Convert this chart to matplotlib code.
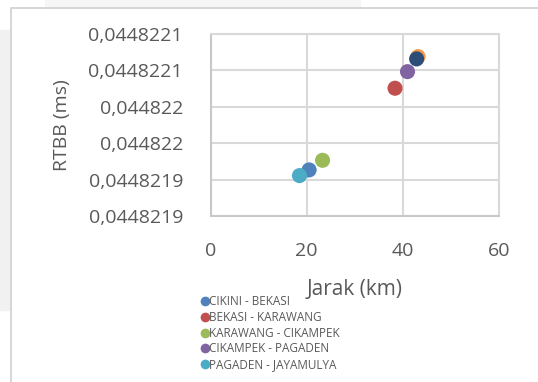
import matplotlib
matplotlib.use("Agg")
import matplotlib.pyplot as plt
from matplotlib.lines import Line2D
from matplotlib.patches import Rectangle

# ---------------------------------------------------------------------------
# Data
# ---------------------------------------------------------------------------
series_names = [
    "CIKINI - BEKASI",
    "BEKASI - KARAWANG",
    "KARAWANG - CIKAMPEK",
    "CIKAMPEK - PAGADEN",
    "PAGADEN - JAYAMULYA",
    "",  # extra series, not in legend
    "",
]
jarak = [20.5, 38.4, 23.3, 41.0, 18.5, 43.2, 42.9]
rtbb = [0.0448219133, 0.0448220255, 0.0448219265, 0.0448220483,
        0.0448219055, 0.0448220689, 0.0448220658]
colors = ["#4F81BD", "#C0504D", "#9BBB59", "#8064A2", "#4BACC6",
          "#F79646", "#2C4D75"]

y_ticks = [0.04482185, 0.0448219, 0.04482195, 0.044822, 0.04482205, 0.0448221]
y_tick_labels = ["0,0448219", "0,0448219", "0,044822", "0,044822",
                 "0,0448221", "0,0448221"]
x_ticks = [0, 20, 40, 60]

# ---------------------------------------------------------------------------
# Figure
# ---------------------------------------------------------------------------
plt.rcParams["font.family"] = ["Open Sans", "DejaVu Sans"]
text_color = "#595959"
grid_color = "#D9D9D9"

fig = plt.figure(figsize=(5.38, 3.82), dpi=100)
W, H = 538, 382

# page background shading and chart frame
fig.patches.append(Rectangle((0, 1 - 310 / H), 10 / W, 280 / H,
                             transform=fig.transFigure, color="#F1F1F1", zorder=0))
fig.patches.append(Rectangle((45 / W, 1 - 8 / H), 315 / W, 8 / H,
                             transform=fig.transFigure, color="#F6F6F6", zorder=0))
fig.lines.append(Line2D([10.8 / W, 10.8 / W, 1.0], [0.0, 1 - 8.3 / H, 1 - 8.3 / H],
                        transform=fig.transFigure, color="#D6D6D6", lw=1.4))

ax = fig.add_axes([210.7 / W, 1 - 216 / H, 288 / W, 182 / H])

for x, y, c in zip(jarak, rtbb, colors):
    ax.scatter([x], [y], s=118, color=c, edgecolors="none", zorder=3)

ax.set_xlim(0, 60)
ax.set_ylim(y_ticks[0], y_ticks[-1])
ax.set_xticks(x_ticks)
ax.set_xticklabels([str(v) for v in x_ticks])
ax.set_yticks(y_ticks)
ax.set_yticklabels(y_tick_labels)

ax.grid(True, color=grid_color, lw=1.5)
ax.set_axisbelow(True)
for side in ["top", "right", "left", "bottom"]:
    ax.spines[side].set_color(grid_color)
    ax.spines[side].set_linewidth(1.5)
ax.spines["bottom"].set_color("#C8C8C8")
ax.spines["left"].set_color("#C8C8C8")

ax.tick_params(length=0, labelsize=14, colors=text_color)
ax.tick_params(axis="y", pad=20)
ax.tick_params(axis="x", pad=18.5)

ax.set_xlabel("Jarak (km)", fontsize=15, color=text_color, labelpad=14)
# y axis title placed at a fixed spot left of the tick labels
fig.text(62 / W, 1 - 125 / H, "RTBB (ms)", rotation=90, ha="center",
         va="center", fontsize=14, color=text_color)

# legend (first five series only)
handles = [Line2D([], [], marker="o", ls="none", markersize=7,
                  markerfacecolor=c, markeredgecolor="none")
           for c in colors[:5]]
fig.legend(handles, series_names[:5], loc="upper left",
           bbox_to_anchor=(201 / W, 1 - 295 / H), frameon=False,
           fontsize=8.5, labelcolor=text_color, handlelength=0.6,
           handletextpad=0.1, labelspacing=0.24, borderpad=0,
           borderaxespad=0)

fig.savefig("out.png", dpi=100, facecolor="white")
